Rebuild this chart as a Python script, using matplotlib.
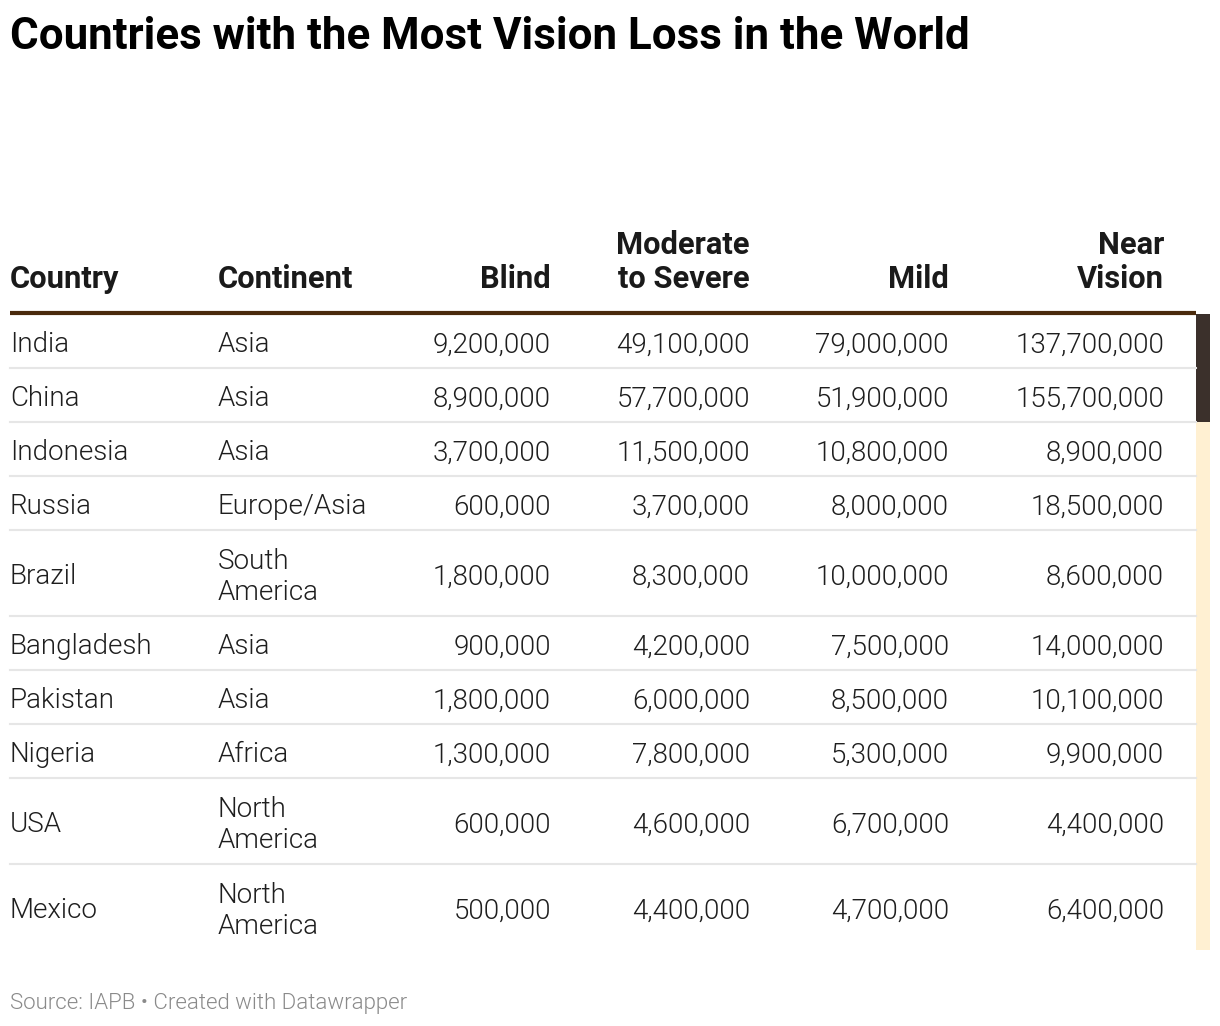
#!/usr/bin/env python
"""
plot.py
=======

Countries with the most vision loss : datawrapper style table
"""
import numpy as np
import matplotlib
matplotlib.use("Agg")
import matplotlib.pyplot as plt

SIZE = np.array([1220, 1026])

countries = ["India", "China", "Indonesia", "Russia", "Brazil",
             "Bangladesh", "Pakistan", "Nigeria", "USA", "Mexico"]
continents = ["Asia", "Asia", "Asia", "Europe/Asia", "South\nAmerica",
              "Asia", "Asia", "Africa", "North\nAmerica", "North\nAmerica"]
blind = [9200000, 8900000, 3700000, 600000, 1800000,
         900000, 1800000, 1300000, 600000, 500000]
moderate = [49100000, 57700000, 11500000, 3700000, 8300000,
            4200000, 6000000, 7800000, 4600000, 4400000]
mild = [79000000, 51900000, 10800000, 8000000, 10000000,
        7500000, 8500000, 5300000, 6700000, 4700000]
near = [137700000, 155700000, 8900000, 18500000, 8600000,
        14000000, 10100000, 9900000, 4400000, 6400000]

headers = ["Country", "Continent", "Blind", "Moderate\nto Severe", "Mild", "Near\nVision"]

title = "Countries with the Most Vision Loss in the World"
source = "Source: IAPB \u2022 Created with Datawrapper"

plt.rcParams["font.family"] = ["Roboto", "DejaVu Sans"]

if __name__ == '__main__':

    fig = plt.figure(figsize=SIZE/100., dpi=100)
    ax = fig.add_axes([0, 0, 1, 1])
    ax.set_xlim(0, SIZE[0])
    ax.set_ylim(SIZE[1], 0)
    ax.axis("off")

    ax.text(10, 37, title, fontsize=31.6, fontweight="bold",
            color="#000000", va="center", ha="left")
    ax.text(10, 1003, source, fontsize=16, fontweight=300,
            color="#8a8a8a", va="center", ha="left")

    # column anchors : (x, ha)
    cols = [(10, "left"), (218, "left"), (551, "right"),
            (750, "right"), (949, "right"), (1164, "right")]

    fs = 20
    body = "#1e1e1e"
    for (x, ha), h in zip(cols, headers):
        ax.text(x, 288, h, fontsize=22.2, fontweight="bold", color="#1a1a1a",
                ha=ha, va="baseline", linespacing=1.16)

    top = 313
    ax.plot([10, 1196], [top, top], color="#4a2a0c", lw=3, solid_capstyle="butt")

    fmt = lambda v: "{:,}".format(v)
    y = top + 1
    for i in range(len(countries)):
        nl = continents[i].count("\n") + 1
        rh = 54 if nl == 1 else 86
        yc = y + rh/2 + 4
        row = [countries[i], continents[i], fmt(blind[i]), fmt(moderate[i]),
               fmt(mild[i]), fmt(near[i])]
        for (x, ha), t in zip(cols, row):
            ax.text(x, yc, t, fontsize=fs, fontweight=300, color=body,
                    ha=ha, va="center", linespacing=1.23)
        barc = "#3b302b" if near[i] > 100000000 else "#fff0d2"
        ax.add_patch(plt.Rectangle((1196, y), 14, rh, color=barc, lw=0))
        y += rh
        if i < len(countries) - 1:
            ax.plot([10, 1196], [y, y], color="#e6e6e6", lw=1.5)

    fig.savefig("out.png", dpi=100)
